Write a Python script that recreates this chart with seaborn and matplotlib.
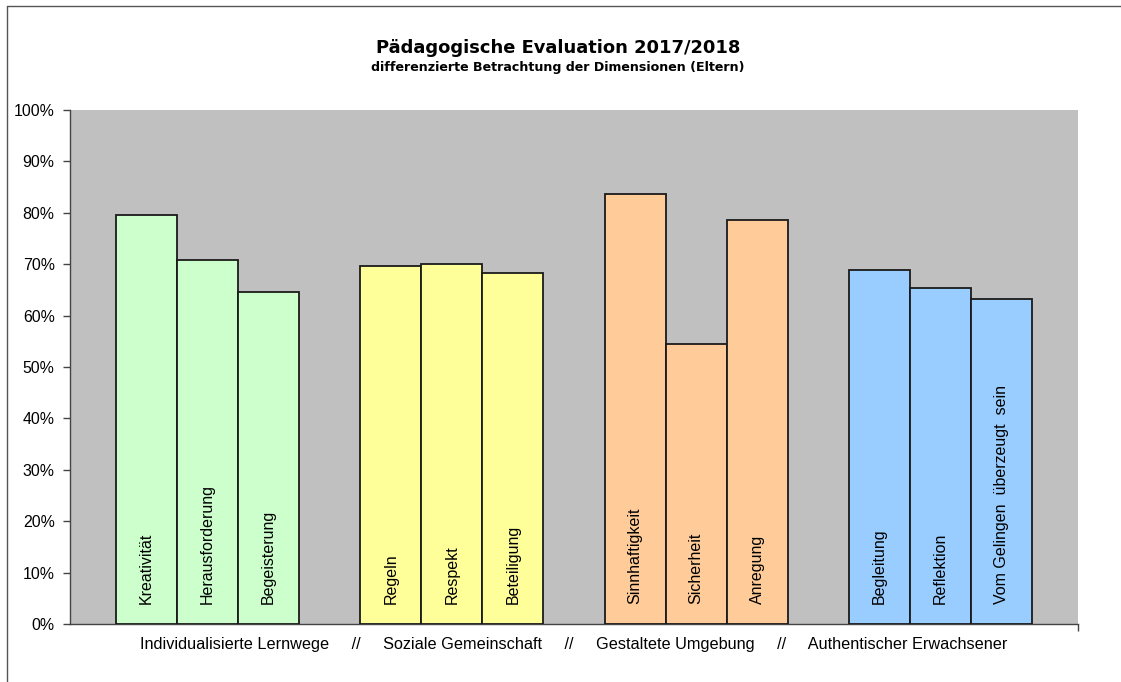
import matplotlib
matplotlib.use("Agg")
import matplotlib.pyplot as plt
import seaborn as sns
import pandas as pd
import numpy as np
from matplotlib.lines import Line2D

# ---- data ----
groups = ["Individualisierte Lernwege", "Soziale Gemeinschaft",
          "Gestaltete Umgebung", "Authentischer Erwachsener"]
items_lernwege = ["Kreativität", "Herausforderung", "Begeisterung"]
items_gemeinschaft = ["Regeln", "Respekt", "Beteiligung"]
items_umgebung = ["Sinnhaftigkeit", "Sicherheit", "Anregung"]
items_erwachsener = ["Begleitung", "Reflektion", "Vom Gelingen  überzeugt  sein"]
values_lernwege = [79.6, 70.8, 64.6]
values_gemeinschaft = [69.6, 70.0, 68.3]
values_umgebung = [83.7, 54.5, 78.6]
values_erwachsener = [68.9, 65.4, 63.2]
group_colors = ["#CCFFCC", "#FFFF99", "#FFCC99", "#99CCFF"]
yticks = [0, 10, 20, 30, 40, 50, 60, 70, 80, 90, 100]
title = "Pädagogische Evaluation 2017/2018"
subtitle = "differenzierte Betrachtung der Dimensionen (Eltern)"

items = [items_lernwege, items_gemeinschaft, items_umgebung, items_erwachsener]
values = [values_lernwege, values_gemeinschaft, values_umgebung, values_erwachsener]

rows = []
for g, (gname, its, vals) in enumerate(zip(groups, items, values)):
    for i, (it, v) in enumerate(zip(its, vals)):
        rows.append({"group": gname, "item": it, "value": v, "pos": g * 4 + i})
df = pd.DataFrame(rows)

sns.set_theme(style="white")
plt.rcParams["font.family"] = ["Liberation Sans", "DejaVu Sans"]
plt.rcParams["text.color"] = "black"
plt.rcParams["axes.labelcolor"] = "black"
plt.rcParams["xtick.color"] = "black"
plt.rcParams["ytick.color"] = "black"

fig = plt.figure(figsize=(11.21, 6.82), dpi=100)
ax = fig.add_axes([70 / 1121, 58 / 682, 1008 / 1121, 514 / 682])
ax.set_facecolor("#C0C0C0")

sns.barplot(data=df, x="pos", y="value", hue="group", hue_order=groups,
            palette=group_colors, saturation=1, native_scale=True, dodge=False,
            width=1.0, edgecolor="#1a1a1a", linewidth=1.3, legend=False, ax=ax,
            zorder=3)

for _, r in df.iterrows():
    ax.text(r["pos"], 3.9, r["item"], rotation=90, rotation_mode="anchor",
            ha="left", va="center", fontsize=11.5, color="black", zorder=5)

xmin, xmax = -1.253, 15.253
ax.set_xlim(xmin, xmax)
ax.set_ylim(0, 100)
ax.set_yticks(yticks)
ax.set_yticklabels([f"{t}%" for t in yticks], fontsize=11.4)
ax.set_xticks([xmax])
ax.set_xticklabels([""])
ax.tick_params(axis="y", direction="out", length=5, width=1, color="#444444",
               labelcolor="black", pad=6, left=True)
ax.tick_params(axis="x", direction="out", length=5, width=1, color="#444444",
               bottom=True)

for s in ["top", "right"]:
    ax.spines[s].set_visible(False)
for s in ["left", "bottom"]:
    ax.spines[s].set_color("#444444")
    ax.spines[s].set_linewidth(1)
ax.set_ylabel("")
sep = "     //     "
ax.set_xlabel(sep.join(groups), fontsize=11.7, labelpad=1, color="black")

fig.text(558 / 1121, 1 - 48 / 682, title, ha="center", va="center",
         fontsize=12.9, fontweight="bold", family="DejaVu Sans", color="black")
fig.text(558 / 1121, 1 - 67 / 682, subtitle, ha="center", va="center",
         fontsize=9.1, fontweight="bold", family="DejaVu Sans", color="black")

# outer chart border (top & left visible)
fig.add_artist(Line2D([7 / 1121, 7 / 1121], [0, 1 - 6 / 682], transform=fig.transFigure,
                      color="#555555", linewidth=1))
fig.add_artist(Line2D([7 / 1121, 1], [1 - 6 / 682, 1 - 6 / 682], transform=fig.transFigure,
                      color="#555555", linewidth=1))

fig.savefig("out.png", dpi=100, facecolor="white")
